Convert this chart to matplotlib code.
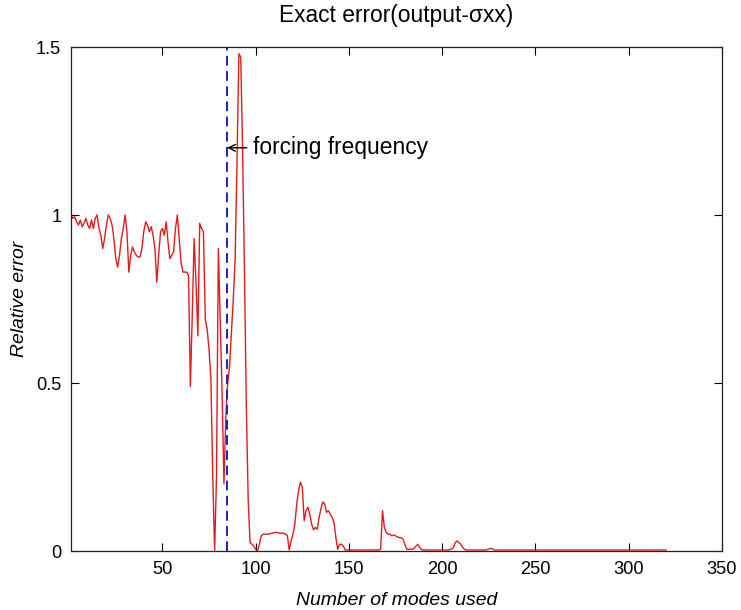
import numpy as np
import matplotlib
matplotlib.use("Agg")
import matplotlib.pyplot as plt
from matplotlib import font_manager

# relative error for each number of modes (modes 1..320)
err_001_040 = [1.00, 0.99, 0.995, 0.98, 0.97, 0.985, 0.965, 0.975, 0.99, 0.97,
               0.96, 0.985, 0.96, 0.99, 1.00, 0.96, 0.94, 0.90, 0.93, 0.97,
               1.00, 0.99, 0.97, 0.93, 0.87, 0.845, 0.88, 0.93, 0.96, 1.00,
               0.95, 0.83, 0.88, 0.905, 0.89, 0.88, 0.875, 0.875, 0.90, 0.95]
err_041_080 = [0.98, 0.97, 0.95, 0.965, 0.94, 0.90, 0.80, 0.88, 0.95, 0.96,
               0.94, 0.98, 0.92, 0.87, 0.88, 0.89, 0.96, 1.00, 0.93, 0.86,
               0.83, 0.83, 0.83, 0.82, 0.49, 0.70, 0.93, 0.80, 0.64, 0.975,
               0.96, 0.95, 0.69, 0.66, 0.60, 0.51, 0.22, 0.00, 0.22, 0.90]
err_081_120 = [0.69, 0.47, 0.20, 0.40, 0.50, 0.55, 0.65, 0.75, 0.87, 1.16,
               1.48, 1.47, 1.19, 0.83, 0.43, 0.15, 0.025, 0.02, 0.015, 0.005,
               0.00, 0.02, 0.045, 0.05, 0.05, 0.05, 0.05, 0.052, 0.053, 0.055,
               0.055, 0.055, 0.053, 0.053, 0.053, 0.05, 0.045, 0.003, 0.03, 0.05]
err_121_160 = [0.08, 0.14, 0.18, 0.205, 0.19, 0.09, 0.12, 0.13, 0.11, 0.08,
               0.063, 0.07, 0.065, 0.10, 0.126, 0.146, 0.14, 0.115, 0.12, 0.11,
               0.10, 0.085, 0.04, 0.005, 0.02, 0.02, 0.015, 0.003, 0.003, 0.003,
               0.003, 0.003, 0.003, 0.003, 0.003, 0.003, 0.003, 0.003, 0.003, 0.003]
err_161_200 = [0.003, 0.003, 0.003, 0.003, 0.003, 0.003, 0.005, 0.12, 0.07, 0.055,
               0.05, 0.05, 0.045, 0.048, 0.045, 0.042, 0.04, 0.04, 0.035, 0.02,
               0.005, 0.005, 0.006, 0.005, 0.008, 0.015, 0.02, 0.01, 0.004, 0.003,
               0.003, 0.003, 0.003, 0.003, 0.003, 0.003, 0.003, 0.003, 0.003, 0.003]
err_201_240 = [0.003, 0.003, 0.003, 0.004, 0.006, 0.01, 0.025, 0.03, 0.025, 0.02,
               0.01, 0.005, 0.003, 0.003, 0.003, 0.003, 0.003, 0.003, 0.003, 0.003,
               0.003, 0.003, 0.003, 0.004, 0.006, 0.008, 0.006, 0.003, 0.003, 0.003,
               0.003, 0.003, 0.003, 0.003, 0.003, 0.003, 0.003, 0.003, 0.003, 0.003]
err_241_320 = [0.003, 0.003, 0.003, 0.003, 0.003, 0.003, 0.003, 0.003, 0.003, 0.003,
               0.003, 0.003, 0.003, 0.003, 0.003, 0.003, 0.003, 0.003, 0.003, 0.003,
               0.003, 0.003, 0.003, 0.003, 0.003, 0.003, 0.003, 0.003, 0.003, 0.003,
               0.003, 0.003, 0.003, 0.003, 0.003, 0.003, 0.003, 0.003, 0.003, 0.003,
               0.003, 0.003, 0.003, 0.003, 0.003, 0.003, 0.003, 0.003, 0.003, 0.003,
               0.003, 0.003, 0.003, 0.003, 0.003, 0.003, 0.003, 0.003, 0.003, 0.003,
               0.003, 0.003, 0.003, 0.003, 0.003, 0.003, 0.003, 0.003, 0.003, 0.003,
               0.003, 0.003, 0.003, 0.003, 0.003, 0.003, 0.003, 0.003, 0.003, 0.003]

rel_err = (err_001_040 + err_041_080 + err_081_120 + err_121_160
           + err_161_200 + err_201_240 + err_241_320)
modes = np.arange(1, len(rel_err) + 1)

forcing_mode = 84.7
xticks = [50, 100, 150, 200, 250, 300, 350]
yticks = [0, 0.5, 1, 1.5]
ytick_labels = ["0", "0.5", "1", "1.5"]

# matlab text looks condensed; use the narrow face if it is there
names = {f.name for f in font_manager.fontManager.ttflist}
if "Liberation Sans Narrow" in names:
    fam, k = ["Liberation Sans Narrow", "DejaVu Sans"], 1.0
else:
    fam, k = ["Liberation Sans", "DejaVu Sans"], 0.82
plt.rcParams["font.family"] = fam

fig = plt.figure(figsize=(7.41, 6.10), dpi=100)
ax = fig.add_axes([71 / 741, 59 / 610, 651 / 741, 504 / 610])

ax.plot(modes, rel_err, color="#e31a1c", lw=1.0)
ax.axvline(forcing_mode, color="#1f1fbf", lw=1.4, ls=(0, (5, 2.8)))

# "<- forcing frequency" label
ax.annotate("", xy=(forcing_mode, 1.2), xytext=(forcing_mode + 10.5, 1.2),
            arrowprops=dict(arrowstyle="->", lw=1.0, color="black",
                            mutation_scale=12, shrinkA=0, shrinkB=0))
ax.text(forcing_mode + 14, 1.2, "forcing frequency", fontsize=20 * k,
        va="center", ha="left")

ax.set_xlim(1, 350)
ax.set_ylim(0, 1.5)
ax.set_xticks(xticks)
ax.set_yticks(yticks)
ax.set_yticklabels(ytick_labels)
ax.tick_params(direction="in", top=True, right=True, length=6, width=0.8,
               labelsize=16 * k, pad=7)
for s in ax.spines.values():
    s.set_linewidth(0.9)
    s.set_color("#222222")

ax.set_title("Exact error(output-\u03c3xx)", fontsize=20 * k, pad=18)
ax.set_xlabel("Number of modes used", fontsize=17 * k, style="italic", labelpad=10)
ax.set_ylabel("Relative error", fontsize=17 * k, style="italic", labelpad=6)

fig.savefig("out.png", dpi=100)
